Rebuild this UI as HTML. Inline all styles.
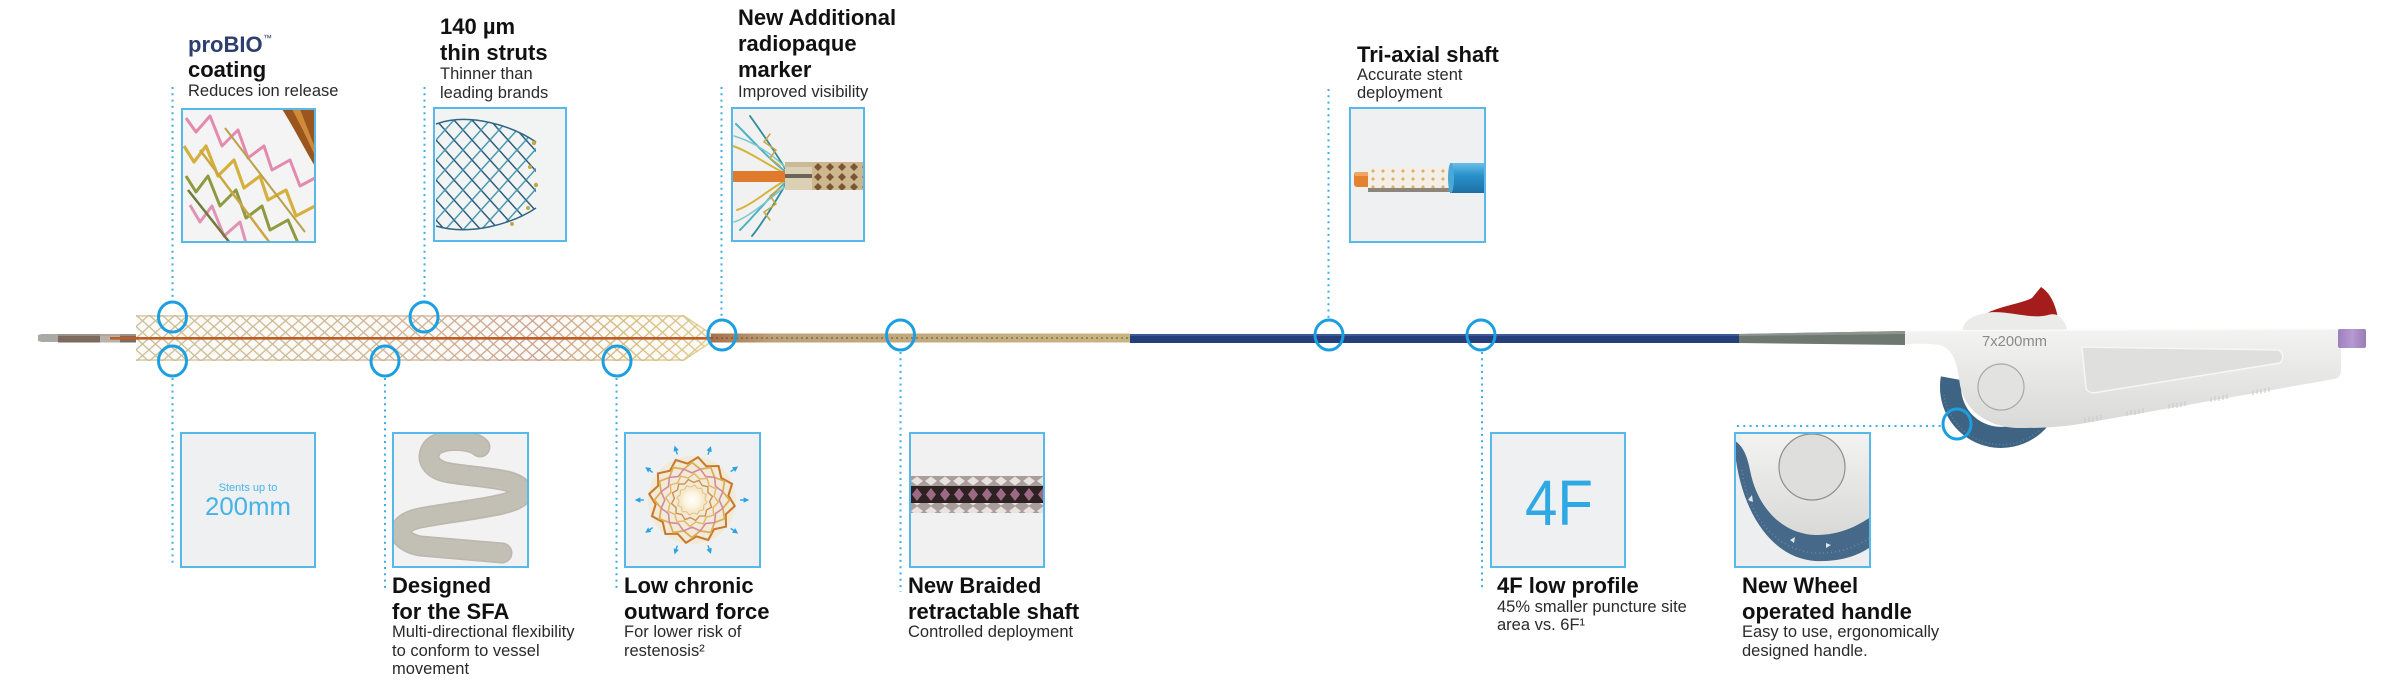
<!DOCTYPE html>
<html><head><meta charset="utf-8">
<style>
html,body{margin:0;padding:0;background:#fff;}
svg{display:block;}
.t{font-family:"Liberation Sans",Arial,sans-serif;font-weight:bold;font-size:22px;fill:#111;}
.s{font-family:"Liberation Sans",Arial,sans-serif;font-size:16.5px;fill:#2a2a2a;}
</style></head><body>
<svg width="2390" height="687" viewBox="0 0 2390 687" xmlns="http://www.w3.org/2000/svg">
<defs>
  <pattern id="lat" patternUnits="userSpaceOnUse" x="136" y="315" width="13" height="11.6">
    <path d="M0,0 L13,11.6 M13,0 L0,11.6" stroke="#fff" stroke-width="1.35"/>
  </pattern>
  <mask id="mk" maskUnits="userSpaceOnUse" x="0" y="0" width="2390" height="687">
    <rect x="130" y="310" width="590" height="56" fill="url(#lat)"/>
  </mask>
  <linearGradient id="sg" gradientUnits="userSpaceOnUse" x1="136" y1="0" x2="711" y2="0">
    <stop offset="0" stop-color="#c9bf98"/>
    <stop offset=".25" stop-color="#cdb993"/>
    <stop offset=".5" stop-color="#cfb196"/>
    <stop offset=".7" stop-color="#cb9f8c"/>
    <stop offset=".85" stop-color="#d6bb7e"/>
    <stop offset="1" stop-color="#dcc88a"/>
  </linearGradient>
  <linearGradient id="brg" gradientUnits="userSpaceOnUse" x1="711" y1="0" x2="1130" y2="0">
    <stop offset="0" stop-color="#a8704a"/>
    <stop offset=".15" stop-color="#bda27a"/>
    <stop offset="1" stop-color="#c8b682"/>
  </linearGradient>
  <linearGradient id="bodyG" x1="0" y1="0" x2="0" y2="1">
    <stop offset="0" stop-color="#f3f3f2"/>
    <stop offset="1" stop-color="#d9d9d7"/>
  </linearGradient>
  <linearGradient id="purp" x1="0" y1="0" x2="1" y2="0">
    <stop offset="0" stop-color="#9d7fbf"/>
    <stop offset=".5" stop-color="#b79ad0"/>
    <stop offset="1" stop-color="#9a7cb8"/>
  </linearGradient>
  <linearGradient id="blueT" x1="0" y1="0" x2="0" y2="1">
    <stop offset="0" stop-color="#6cc0e8"/>
    <stop offset=".4" stop-color="#2a92cc"/>
    <stop offset="1" stop-color="#1d6fa3"/>
  </linearGradient>
  <radialGradient id="glow" cx=".5" cy=".5" r=".5">
    <stop offset="0" stop-color="#ffffff"/>
    <stop offset=".6" stop-color="#fff6e0" stop-opacity=".8"/>
    <stop offset="1" stop-color="#f3d9a0" stop-opacity="0"/>
  </radialGradient>
  <pattern id="latB" patternUnits="userSpaceOnUse" x="436" y="120" width="18" height="20">
    <path d="M0,0 L18,20" stroke="#2f5f7c" stroke-width="1.5"/>
    <path d="M18,0 L0,20" stroke="#4a9ab4" stroke-width="1.5"/>
  </pattern>
  <clipPath id="cone"><path d="M436,124 C470,112 512,126 536,142 L536,208 C512,224 470,236 436,226 Z"/></clipPath>
  <pattern id="brC" patternUnits="userSpaceOnUse" x="812" y="162" width="12" height="10">
    <rect width="12" height="10" fill="#cdb78e"/>
    <path d="M6,1 L10,5 L6,9 L2,5 Z" fill="#7a5530"/>
  </pattern>
  <pattern id="brD" patternUnits="userSpaceOnUse" x="1368" y="167" width="10" height="8">
    <rect width="10" height="8" fill="#f3eee6"/>
    <path d="M5,2 L7,4 L5,6 L3,4 Z" fill="#d8b36a"/>
  </pattern>
  <pattern id="brL" patternUnits="userSpaceOnUse" x="910" y="476" width="14" height="10">
    <rect width="14" height="10" fill="#a99e9b"/>
    <path d="M7,0.5 L13,5 L7,9.5 L1,5 Z" fill="#e9e3e0"/>
  </pattern>
  <pattern id="brDk" patternUnits="userSpaceOnUse" x="910" y="486" width="14" height="17">
    <rect width="14" height="17" fill="#2d2121"/>
    <path d="M7,2 L12,8.5 L7,15 L2,8.5 Z" fill="#9d6a86"/>
  </pattern>
  <path id="star" d="M40,0 L32.8,8.8 L34.6,20 L24,24 L20,34.6 L8.8,32.8 L0,40 L-8.8,32.8 L-20,34.6 L-24,24 L-34.6,20 L-32.8,8.8 L-40,0 L-32.8,-8.8 L-34.6,-20 L-24,-24 L-20,-34.6 L-8.8,-32.8 L0,-40 L8.8,-32.8 L20,-34.6 L24,-24 L34.6,-20 L32.8,-8.8 Z" fill="none"/>
  <marker id="ah" markerWidth="4" markerHeight="4" refX="1" refY="2" orient="auto" markerUnits="strokeWidth">
    <path d="M0,0 L4,2 L0,4 Z" fill="#2aa3e0"/>
  </marker>
  <clipPath id="cA"><rect x="182" y="109" width="133" height="133"/></clipPath>
  <clipPath id="cC"><rect x="732" y="108" width="132" height="133"/></clipPath>
  <clipPath id="cF"><rect x="393" y="433" width="135" height="134"/></clipPath>
  <clipPath id="cJ"><rect x="1735" y="433" width="135" height="134"/></clipPath>
</defs>

<!-- ================= TOP TEXT ================= -->
<text x="188" y="52" class="t" style="fill:#2c3f6e">proBIO</text>
<text x="263" y="41" style="font-family:'Liberation Sans',sans-serif;font-size:9px;fill:#2c3f6e">™</text>
<text x="188" y="77" class="t">coating</text>
<text x="188" y="96" class="s">Reduces ion release</text>

<text x="440" y="34" class="t">140 µm</text>
<text x="440" y="60" class="t">thin struts</text>
<text x="440" y="79" class="s">Thinner than</text>
<text x="440" y="98" class="s">leading brands</text>

<text x="738" y="25" class="t">New Additional</text>
<text x="738" y="51" class="t">radiopaque</text>
<text x="738" y="77" class="t">marker</text>
<text x="738" y="97" class="s">Improved visibility</text>

<text x="1357" y="62" class="t">Tri-axial shaft</text>
<text x="1357" y="80" class="s">Accurate stent</text>
<text x="1357" y="98" class="s">deployment</text>

<!-- ================= TOP BOXES ================= -->
<!-- A proBIO -->
<rect x="182" y="109" width="133" height="133" fill="#f4f4f4"/>
<g clip-path="url(#cA)" fill="none" stroke-linejoin="round">
  <path d="M282,109 L316,109 L316,168 C305,150 294,128 282,109 Z" fill="#9b5620" stroke="none"/>
  <path d="M292,109 L300,109 C306,125 312,140 316,150 L316,158 C308,140 300,124 292,109 Z" fill="#d08a3a" stroke="none"/>
  <polyline points="186,118 196,132 210,116 222,146 238,130 248,158 264,146 272,170 290,160 300,186 315,178" stroke="#e48aae" stroke-width="3"/>
  <polyline points="184,146 194,162 206,146 218,176 234,160 244,188 260,176 268,200 286,190 296,216 315,206" stroke="#d6b03e" stroke-width="3.2"/>
  <polyline points="186,176 196,192 208,176 220,206 236,190 246,218 262,206 270,230 288,220 298,243" stroke="#8f9a40" stroke-width="3"/>
  <polyline points="190,205 200,222 212,206 224,236 240,222 246,243" stroke="#e093b5" stroke-width="3"/>
  <line x1="200" y1="150" x2="270" y2="243" stroke="#c9a844" stroke-width="2.5"/>
  <line x1="225" y1="128" x2="305" y2="232" stroke="#b9a04a" stroke-width="2"/>
  <line x1="188" y1="190" x2="230" y2="243" stroke="#6f7a38" stroke-width="2.5"/>
</g>
<rect x="182" y="109" width="133" height="133" fill="none" stroke="#56b9e9" stroke-width="2"/>

<!-- B struts -->
<rect x="434" y="108" width="132" height="133" fill="#f2f3f3"/>
<rect x="434" y="110" width="110" height="130" fill="url(#latB)" clip-path="url(#cone)"/>
<path d="M436,124 C470,112 512,126 536,142 M436,226 C470,236 512,224 536,208" stroke="#2f6684" stroke-width="1.5" fill="none"/>
<g fill="#c9a640"><circle cx="534" cy="143" r="2.2"/><circle cx="530" cy="167" r="2"/><circle cx="536" cy="185" r="2.2"/><circle cx="528" cy="208" r="2"/><circle cx="512" cy="224" r="2"/></g>
<rect x="434" y="108" width="132" height="133" fill="none" stroke="#56b9e9" stroke-width="2"/>

<!-- C radiopaque -->
<rect x="732" y="108" width="132" height="133" fill="#f1f1f1"/>
<g clip-path="url(#cC)" fill="none" stroke-linecap="round">
  <path d="M786,172 C770,160 752,140 736,124" stroke="#4cb3c4" stroke-width="2"/>
  <path d="M786,174 C768,165 750,152 733,146" stroke="#d4b43c" stroke-width="2"/>
  <path d="M786,170 C774,150 760,130 750,116" stroke="#2f8c9c" stroke-width="1.8"/>
  <path d="M786,180 C768,190 752,205 737,210" stroke="#d4b43c" stroke-width="2"/>
  <path d="M786,182 C770,196 755,215 740,230" stroke="#4cb3c4" stroke-width="2"/>
  <path d="M786,184 C776,200 765,220 752,236" stroke="#2f8c9c" stroke-width="1.8"/>
  <path d="M786,168 C768,150 748,140 734,136" stroke="#7fc7c9" stroke-width="1.5"/>
  <path d="M786,186 C768,200 748,218 734,222" stroke="#7fc7c9" stroke-width="1.5"/>
  <path d="M780,166 L770,158 L776,150 L764,142 L770,134" stroke="#c9a640" stroke-width="1.5"/>
  <path d="M780,188 L770,196 L776,204 L764,212 L770,220" stroke="#c9a640" stroke-width="1.5"/>
</g>
<rect x="732" y="171" width="56" height="11" fill="#e07a2c"/>
<rect x="785" y="162" width="27" height="28" fill="#dbcfb4"/>
<rect x="785" y="162" width="27" height="5" fill="#c9bb98"/>
<rect x="785" y="174" width="27" height="4" fill="#6a645a"/>
<rect x="812" y="162" width="52" height="28" fill="url(#brC)"/>
<rect x="732" y="108" width="132" height="133" fill="none" stroke="#56b9e9" stroke-width="2"/>

<!-- D tri-axial -->
<rect x="1350" y="108" width="135" height="134" fill="#eef0f1"/>
<rect x="1354" y="172" width="28" height="15" rx="3" fill="#e4822f"/>
<rect x="1354" y="172" width="28" height="4" rx="2" fill="#f0a560"/>
<rect x="1368" y="167" width="88" height="25" rx="4" fill="url(#brD)"/>
<rect x="1368" y="188" width="88" height="4" fill="#8e857a"/>
<rect x="1450" y="163" width="36" height="30" fill="url(#blueT)"/>
<ellipse cx="1451" cy="178" rx="3" ry="15" fill="#4aa8d8"/>
<rect x="1350" y="108" width="135" height="134" fill="none" stroke="#56b9e9" stroke-width="2"/>

<!-- ================= DOTTED CONNECTORS ================= -->
<g stroke="#3badea" stroke-width="2" stroke-dasharray="2 4.3" fill="none">
  <line x1="172.5" y1="87" x2="172.5" y2="301"/>
  <line x1="424.5" y1="87" x2="424.5" y2="301"/>
  <line x1="721.5" y1="87" x2="721.5" y2="319"/>
  <line x1="1328.5" y1="89" x2="1328.5" y2="319"/>
  <line x1="172.5" y1="378" x2="172.5" y2="567"/>
  <line x1="385" y1="378" x2="385" y2="592"/>
  <line x1="616.5" y1="378" x2="616.5" y2="592"/>
  <line x1="900.5" y1="352" x2="900.5" y2="592"/>
  <line x1="1482" y1="352" x2="1482" y2="590"/>
  <line x1="1737" y1="426" x2="1941" y2="426"/>
</g>

<!-- ================= DEVICE ================= -->
<!-- tip -->
<path d="M38,335 L42,334 L58,334 L58,342 L42,342 L38,341 Z" fill="#a9a9a6"/>
<rect x="58" y="334" width="78" height="8.5" fill="#7c6a5c"/>
<rect x="100" y="334" width="20" height="8.5" fill="#b8b2aa"/>
<rect x="58" y="334" width="78" height="2" fill="#a8a29a" opacity=".7"/>
<!-- stent -->
<path d="M136,315 L684,315 L711,333 L711,343 L684,361 L136,361 Z" fill="#fbfaf6"/>
<path d="M136,315 L684,315 L711,333 L711,343 L684,361 L136,361 Z" fill="url(#sg)" mask="url(#mk)"/>
<path d="M136,316 L684,316 L711,334 M136,360 L684,360 L711,342" stroke="url(#sg)" stroke-width="1.6" fill="none" opacity=".8"/>
<line x1="110" y1="338.3" x2="736" y2="338.3" stroke="#bd5e28" stroke-width="2.6"/>
<!-- braided shaft -->
<rect x="711" y="333.5" width="419" height="9" fill="url(#brg)"/>
<line x1="711" y1="338" x2="1130" y2="338" stroke="#5a4a30" stroke-width="2" stroke-dasharray="2 3" opacity=".45"/>
<!-- blue shaft -->
<rect x="1130" y="334" width="609" height="9" fill="#243f7a"/>
<rect x="1130" y="334" width="609" height="2" fill="#3b5a96"/>
<!-- gray taper -->
<path d="M1739,334 L1905,331 L1905,345 L1739,343 Z" fill="#6f7771"/>
<path d="M1739,334 L1905,331 L1905,334 L1739,336 Z" fill="#8e958f"/>

<!-- wheel (behind body) -->
<path d="M1940.9,376.4 A61,61 0 0 0 2047.7,426.2 L2031.6,412.7 A40,40 0 0 1 1961.6,380.1 Z" fill="#3f6383"/>
<path d="M1944,395 A58,58 0 0 0 2040,430" stroke="#5f81a0" stroke-width="1.5" stroke-dasharray="1 2.5" fill="none"/>
<!-- red trigger -->
<path d="M1985,314 C2000,306 2020,304 2032,298 L2041,287 C2049,292 2055,302 2058,318 Z" fill="#a51c1c"/>
<!-- bump -->
<path d="M1962,332 C1964,320 1972,316 1985,313 C2005,309 2030,320 2048,315 C2058,312 2064,318 2068,332 Z" fill="#ebebea"/>
<!-- body -->
<path d="M1905,331 L2337,329 Q2341,330 2341,335 L2341,372 Q2340,378 2334,379 L2080,424 C2055,428 2035,428 2020,428 C1990,428 1965,412 1960,385 C1957,365 1955,350 1940,345 C1925,343 1912,344 1905,344 Z" fill="url(#bodyG)"/>
<path d="M1905,331 L2337,329" stroke="#fafafa" stroke-width="1.5"/>
<!-- window -->
<path d="M2082,347 L2279,350 Q2286,356 2280,363 L2093,393 Q2087,392 2086,388 Z" fill="#dfdfdd" stroke="#f6f6f5" stroke-width="1.5"/>
<!-- hub -->
<circle cx="2001" cy="387" r="23" fill="#e2e2e0" stroke="#a9a9a7" stroke-width="1.2"/>
<!-- grip ridges -->
<g stroke="#c9c9c7" stroke-width="1">
  <path d="M2085,418 v5 M2089,417 v5 M2093,417 v5 M2097,416 v5 M2101,415 v5"/>
  <path d="M2127,411 v5 M2131,410 v5 M2135,410 v5 M2139,409 v5 M2143,408 v5"/>
  <path d="M2169,404 v5 M2173,403 v5 M2177,403 v5 M2181,402 v5 M2185,401 v5"/>
  <path d="M2211,397 v5 M2215,396 v5 M2219,396 v5 M2223,395 v5 M2227,394 v5"/>
  <path d="M2253,390 v5 M2257,389 v5 M2261,389 v5 M2265,388 v5 M2269,387 v5"/>
</g>
<!-- purple cap -->
<rect x="2338" y="329" width="28" height="19" rx="2" fill="url(#purp)"/>
<!-- handle label -->
<text x="1982" y="346" textLength="65" lengthAdjust="spacingAndGlyphs" style="font-family:'Liberation Sans',sans-serif;font-size:15px;fill:#8a8a88">7x200mm</text>

<!-- circles -->
<g stroke="#1c9fe0" stroke-width="3" fill="none">
  <ellipse cx="172.5" cy="317" rx="14" ry="15"/>
  <ellipse cx="424" cy="317" rx="14" ry="15"/>
  <ellipse cx="172.5" cy="361" rx="14" ry="15"/>
  <ellipse cx="385" cy="361" rx="14" ry="15"/>
  <ellipse cx="617" cy="361" rx="14" ry="15"/>
  <ellipse cx="722" cy="335" rx="14" ry="15"/>
  <ellipse cx="900.5" cy="335" rx="14" ry="15"/>
  <ellipse cx="1329" cy="335" rx="14" ry="15"/>
  <ellipse cx="1481" cy="335" rx="14" ry="15"/>
  <ellipse cx="1957" cy="424" rx="14" ry="15"/>
</g>

<!-- ================= BOTTOM BOXES ================= -->
<!-- E stents -->
<rect x="181" y="433" width="134" height="134" fill="#eef0f1" stroke="#56b9e9" stroke-width="2"/>
<text x="248" y="491" text-anchor="middle" style="font-family:'Liberation Sans',sans-serif;font-size:11px;fill:#4ab4e8">Stents up to</text>
<text x="248" y="515" text-anchor="middle" textLength="86" lengthAdjust="spacingAndGlyphs" style="font-family:'Liberation Sans',sans-serif;font-size:25px;fill:#45b2e8">200mm</text>

<!-- F SFA -->
<rect x="393" y="433" width="135" height="134" fill="#f2f2f2"/>
<g clip-path="url(#cF)" fill="none" stroke-linecap="round">
  <path d="M480,447 C470,438 440,438 432,448 C425,458 430,470 450,473 C480,478 522,478 522,492 C524,506 460,510 420,518 C392,524 396,541 420,546 L502,553" stroke="#bdb8ad" stroke-width="21"/>
  <path d="M480,447 C470,438 440,438 432,448 C425,458 430,470 450,473 C480,478 522,478 522,492 C524,506 460,510 420,518 C392,524 396,541 420,546 L502,553" stroke="#e8e5df" stroke-width="17"/>
  <path d="M480,447 C470,438 440,438 432,448 C425,458 430,470 450,473 C480,478 522,478 522,492 C524,506 460,510 420,518 C392,524 396,541 420,546 L502,553" stroke="#a9a59a" stroke-width="17" stroke-dasharray="1.2 2.8" opacity=".6"/>
</g>
<rect x="393" y="433" width="135" height="134" fill="none" stroke="#56b9e9" stroke-width="2"/>

<!-- G low chronic -->
<rect x="625" y="433" width="135" height="134" fill="#eff0f1"/>
<circle cx="692" cy="500" r="44" fill="#f3e6c8" opacity=".6"/>
<g transform="translate(692,500)">
  <use href="#star" transform="rotate(8) scale(1.08)" stroke="#c9782f" stroke-width="1.9"/>
  <use href="#star" transform="scale(0.94)" stroke="#dcae52" stroke-width="1.9"/>
  <use href="#star" transform="rotate(15) scale(0.8)" stroke="#d38aa0" stroke-width="2"/>
  <use href="#star" transform="rotate(5) scale(0.66)" stroke="#e3b963" stroke-width="2.2"/>
  <use href="#star" transform="rotate(20) scale(0.52)" stroke="#cf8d4a" stroke-width="2.6"/>
  <use href="#star" transform="rotate(10) scale(0.38)" stroke="#e8c47a" stroke-width="3.2"/>
</g>
<circle cx="692" cy="500" r="14" fill="url(#glow)"/>
<g stroke="#2aa3e0" stroke-width="1.4" marker-end="url(#ah)">
  <line x1="677.3" y1="454.3" x2="675.8" y2="449.6"/>
  <line x1="708" y1="454.7" x2="709.6" y2="450"/>
  <line x1="730.7" y1="471.7" x2="734.7" y2="468.8"/>
  <line x1="740" y1="500" x2="745" y2="500"/>
  <line x1="730.7" y1="528.3" x2="734.7" y2="531.2"/>
  <line x1="708" y1="545.3" x2="709.6" y2="550"/>
  <line x1="677.3" y1="545.7" x2="675.8" y2="550.4"/>
  <line x1="652.7" y1="527.6" x2="648.6" y2="530.5"/>
  <line x1="644" y1="500" x2="639" y2="500"/>
  <line x1="652.7" y1="472.4" x2="648.6" y2="469.5"/>
</g>
<rect x="625" y="433" width="135" height="134" fill="none" stroke="#56b9e9" stroke-width="2"/>

<!-- H braided -->
<rect x="910" y="433" width="134" height="134" fill="#f1f1f1"/>
<rect x="910" y="476" width="134" height="37" fill="url(#brL)"/>
<rect x="910" y="486" width="134" height="17" fill="url(#brDk)"/>
<rect x="910" y="433" width="134" height="134" fill="none" stroke="#56b9e9" stroke-width="2"/>

<!-- I 4F -->
<rect x="1491" y="433" width="134" height="134" fill="#eef0f1" stroke="#56b9e9" stroke-width="2"/>
<text x="1525" y="525" textLength="68" lengthAdjust="spacingAndGlyphs" style="font-family:'Liberation Sans',sans-serif;font-size:64px;fill:#2ea9e4">4F</text>

<!-- J wheel -->
<rect x="1735" y="433" width="135" height="134" fill="#eceeef"/>
<g clip-path="url(#cJ)">
  <path d="M1734,432 L1872,432 L1872,520 C1852,532 1835,536 1815,535 C1785,534 1758,510 1750,470 C1748,455 1744,442 1738,432 Z" fill="url(#bodyG)"/>
  <path d="M1734,440 C1737,500 1765,557 1815,561 C1840,562 1858,556 1872,546 L1872,516 C1852,530 1835,535 1815,535 C1783,534 1757,508 1750,470 C1747,455 1743,446 1734,440 Z" fill="#46698a"/>
  <path d="M1742,470 C1748,515 1775,550 1815,553 C1838,554 1855,547 1870,538" stroke="#6a8aa6" stroke-width="1.5" stroke-dasharray="1 3" fill="none"/>
  <path d="M1748,500 l4,-5 l1,7 z M1790,540 l5,-3 l-1,6 z M1826,543 l5,2 l-5,3 z" fill="#dfe6ec"/>
  <circle cx="1812" cy="467" r="33" fill="#dededc" stroke="#8e8e8c" stroke-width="1.2"/>
</g>
<rect x="1735" y="433" width="135" height="134" fill="none" stroke="#56b9e9" stroke-width="2"/>

<!-- ================= BOTTOM TEXT ================= -->
<text x="392" y="593" class="t">Designed</text>
<text x="392" y="619" class="t">for the SFA</text>
<text x="392" y="637" class="s">Multi-directional flexibility</text>
<text x="392" y="656" class="s">to conform to vessel</text>
<text x="392" y="674" class="s">movement</text>

<text x="624" y="593" class="t">Low chronic</text>
<text x="624" y="619" class="t">outward force</text>
<text x="624" y="637" class="s">For lower risk of</text>
<text x="624" y="656" class="s">restenosis²</text>

<text x="908" y="593" class="t">New Braided</text>
<text x="908" y="619" class="t">retractable shaft</text>
<text x="908" y="637" class="s">Controlled deployment</text>

<text x="1497" y="593" class="t">4F low profile</text>
<text x="1497" y="612" class="s">45% smaller puncture site</text>
<text x="1497" y="630" class="s">area vs. 6F¹</text>

<text x="1742" y="593" class="t">New Wheel</text>
<text x="1742" y="619" class="t">operated handle</text>
<text x="1742" y="637" class="s">Easy to use, ergonomically</text>
<text x="1742" y="656" class="s">designed handle.</text>
</svg>
</body></html>
